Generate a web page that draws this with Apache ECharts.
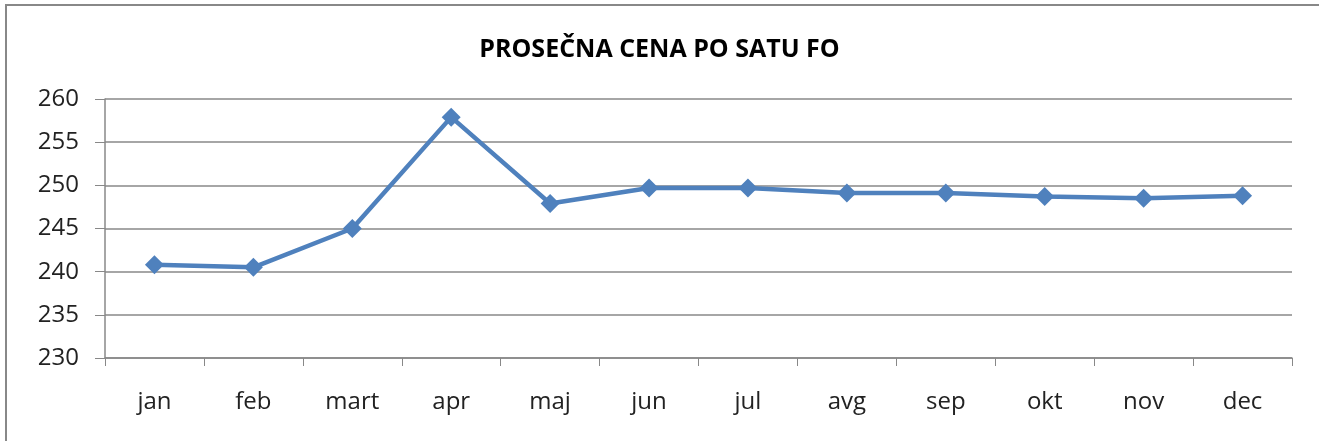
<!DOCTYPE html>
<html>
<head>
<meta charset="utf-8">
<script src="https://cdn.jsdelivr.net/npm/echarts@6/dist/echarts.min.js"></script>
<style>
  html, body { margin: 0; padding: 0; background: #fff; }
  #chart { width: 1319px; height: 441px; }
</style>
</head>
<body>
<div id="chart"></div>
<script>
var chart = echarts.init(document.getElementById('chart'));

var months = ['jan', 'feb', 'mart', 'apr', 'maj', 'jun', 'jul', 'avg', 'sep', 'okt', 'nov', 'dec'];
var prices = [240.8, 240.5, 245.0, 257.9, 247.9, 249.7, 249.7, 249.1, 249.1, 248.7, 248.5, 248.8];

var option = {
    animation: false,
    title: {
        text: 'PROSEČNA CENA PO SATU FO',
        left: 'center',
        top: 32,
        textStyle: {
            fontFamily: 'Open Sans',
            fontSize: 25,
            fontWeight: 'bold',
            color: '#000'
        }
    },
    graphic: [{
        type: 'rect',
        shape: { x: 6, y: 5, width: 1400, height: 500 },
        style: { fill: 'none', stroke: '#888', lineWidth: 2 }
    }],
    grid: {
        left: 105,
        right: 27,
        top: 99,
        bottom: 83
    },
    xAxis: {
        type: 'category',
        data: months,
        boundaryGap: true,
        axisLine: { lineStyle: { color: '#888', width: 1.5 } },
        axisTick: { show: true, length: 8, lineStyle: { color: '#888' } },
        axisLabel: {
            margin: 32,
            fontSize: 24,
            fontFamily: 'Open Sans',
            color: '#222'
        }
    },
    yAxis: {
        type: 'value',
        min: 230,
        max: 260,
        interval: 5,
        axisLine: { show: true, lineStyle: { color: '#888', width: 1.5 } },
        axisTick: { show: true, length: 10, lineStyle: { color: '#888' } },
        splitLine: { lineStyle: { color: '#888', width: 1.5 } },
        axisLabel: {
            margin: 26,
            fontSize: 24,
            fontFamily: 'Open Sans',
            color: '#222'
        }
    },
    series: [{
        type: 'line',
        data: prices,
        symbol: 'diamond',
        symbolSize: 19,
        lineStyle: { color: '#4f81bd', width: 4.5 },
        itemStyle: { color: '#4f81bd' }
    }]
};

chart.setOption(option);
</script>
</body>
</html>
